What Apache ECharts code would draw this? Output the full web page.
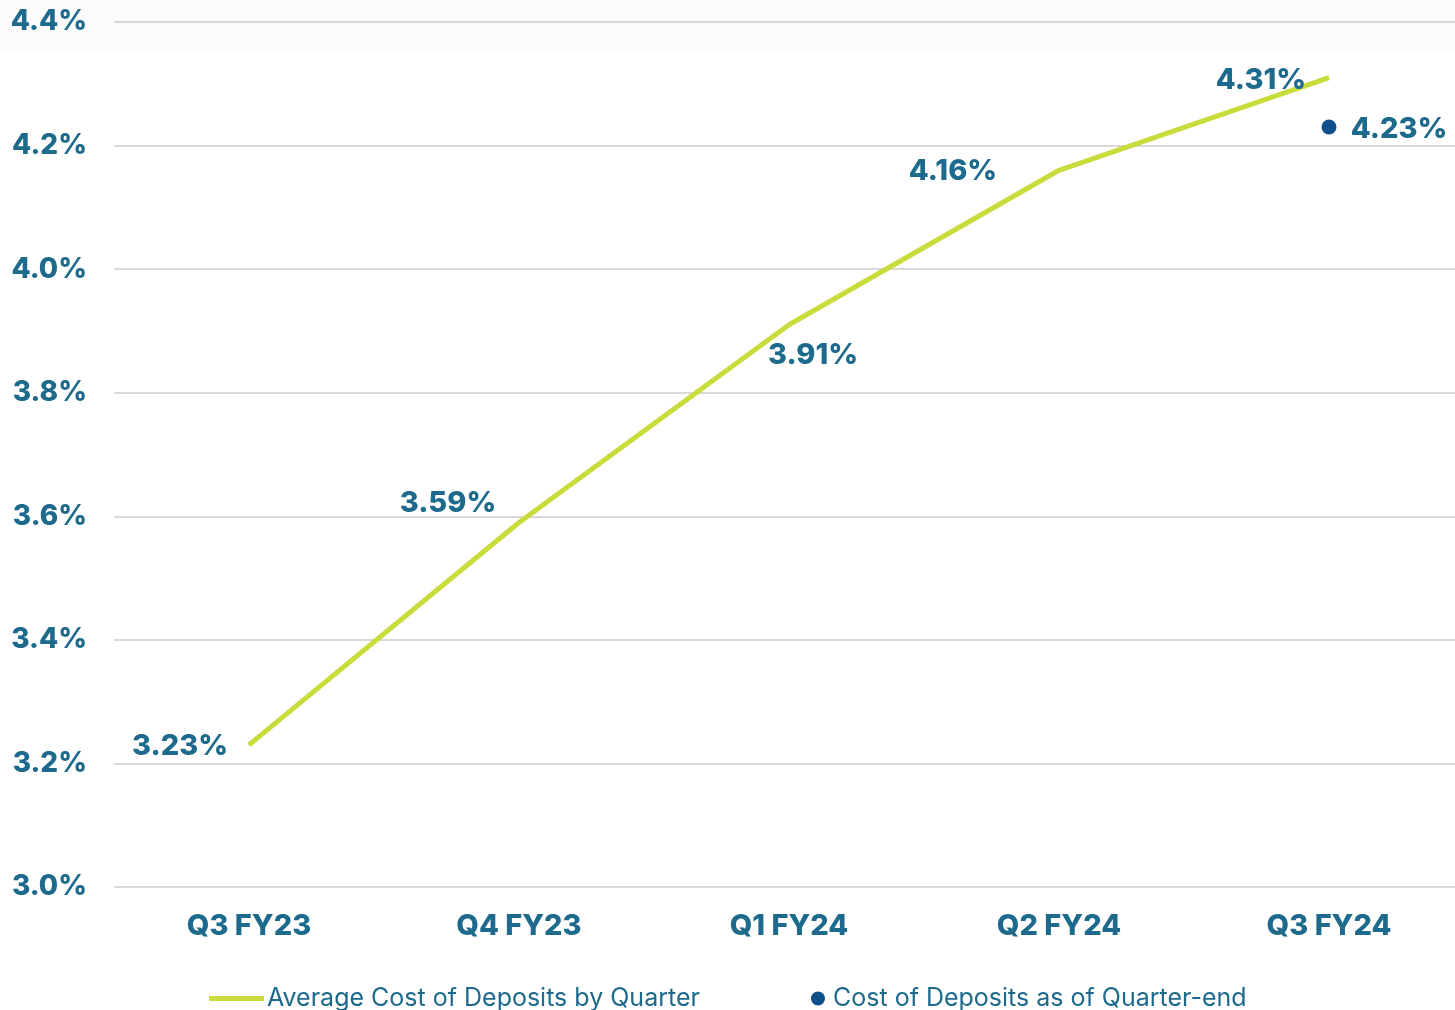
<!DOCTYPE html>
<html><head><meta charset="utf-8">
<script src="https://cdn.jsdelivr.net/npm/echarts@6/dist/echarts.min.js"></script>
<style>html,body{margin:0;padding:0;background:#fff;overflow:hidden}#c{width:1455px;height:1010px}</style>
</head><body><div id="c"></div>
<script>
const categories = ['Q3 FY23','Q4 FY23','Q1 FY24','Q2 FY24','Q3 FY24'];
const avgCost = [3.23, 3.59, 3.91, 4.16, 4.31];
const quarterEnd = [null, null, null, null, 4.23];
const avgName = 'Average Cost of Deposits by Quarter';
const endName = 'Cost of Deposits as of Quarter-end';
const labelOffsets = [[-69,1],[-71,-19],[24,31],[-106,1],[-68,3]];

const FONT = 'Inter';
const TXT = '#1d6a8c';
const LINE = '#c8dc3c';
const DOT = '#0f4f8c';

const chart = echarts.init(document.getElementById('c'));
chart.setOption({
  animation:false,
  backgroundColor:'#fff',
  graphic:[{type:'rect',z:-10,shape:{x:0,y:0,width:1455,height:52},style:{fill:'#fbfbfb'}}],
  grid:{left:114,width:1350,top:22,bottom:123,containLabel:false,outerBoundsMode:'none'},
  xAxis:{type:'category',data:categories,boundaryGap:true,
    axisLine:{show:false},axisTick:{show:false},
    axisLabel:{margin:25,color:TXT,fontFamily:FONT,fontWeight:800,fontSize:29}},
  yAxis:{type:'value',min:3.0,max:4.4,interval:0.2,
    axisLabel:{margin:27,color:TXT,fontFamily:FONT,fontWeight:800,fontSize:28,formatter:v=>v.toFixed(1)+'%'},
    splitLine:{lineStyle:{color:'#d9d9d9',width:2}}},
  legend:[
    {left:209,top:986,padding:0,data:[{name:avgName,icon:'rect'}],itemWidth:55,itemHeight:5,itemGap:4,
     textStyle:{color:TXT,fontFamily:FONT,fontSize:25,padding:[0,0,0,-2]}},
    {left:811,top:986,padding:0,data:[{name:endName,icon:'circle'}],itemWidth:14,itemHeight:14,
     textStyle:{color:TXT,fontFamily:FONT,fontSize:25,padding:[0,0,0,3]}}
  ],
  series:[
    {name:avgName,type:'line',smooth:false,symbol:'circle',symbolSize:1,
     lineStyle:{color:LINE,width:5},itemStyle:{color:LINE},
     data:avgCost.map((v,i)=>({value:v,label:{show:true,position:'inside',offset:labelOffsets[i]}})),
     label:{formatter:p=>p.value.toFixed(2)+'%',color:TXT,fontFamily:FONT,fontWeight:800,fontSize:29}},
    {name:endName,type:'scatter',symbol:'circle',symbolSize:15,itemStyle:{color:DOT,opacity:1},
     data:quarterEnd,
     label:{show:true,position:'inside',offset:[70,2],formatter:p=>p.value.toFixed(2)+'%',color:TXT,fontFamily:FONT,fontWeight:800,fontSize:29}}
  ]
});
</script></body></html>
